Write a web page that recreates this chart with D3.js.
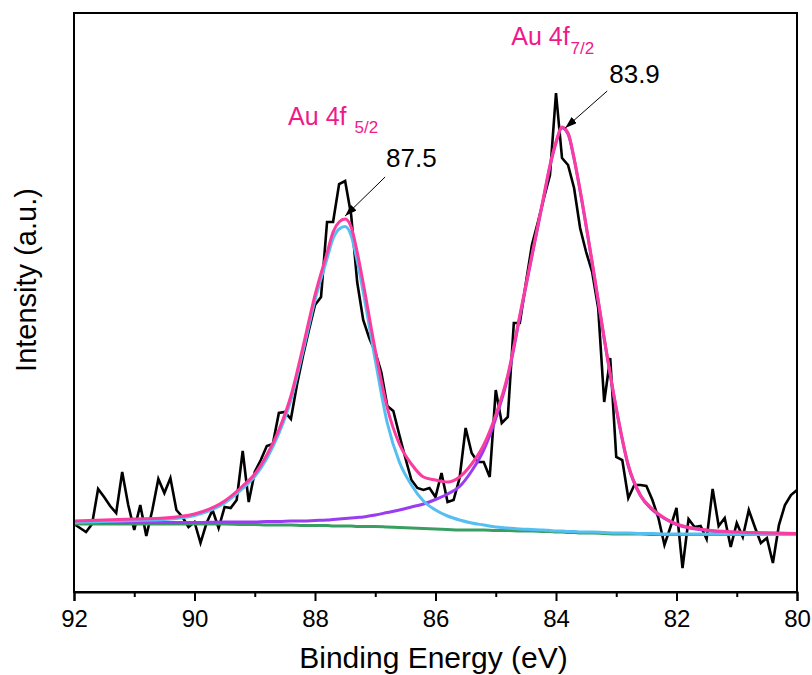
<!DOCTYPE html>
<html><head><meta charset="utf-8">
<script src="https://cdn.jsdelivr.net/npm/d3@7"></script>
<style>
body{margin:0;background:#fff}
svg{display:block}
text{font-family:"Liberation Sans",Arial,sans-serif}
</style>
</head><body>
<svg id="chart" width="812" height="675"></svg>
<script>
// ---- raw XPS spectrum (Binding energy 92.0 -> 80.0 eV, 0.1 eV step), intensity (a.u.)
const rawEnergy = d3.range(121).map(i => +(92 - 0.1 * i).toFixed(1));
const rawIntensity = [
  68, 64, 60, 68, 103, 95, 86, 79, 120, 87, 62, 87, 56, 82, 113, 99, 114, 82, 75, 65,
  70, 49, 69, 82, 64, 85, 84, 92, 141, 90, 120, 132, 146, 148,
  179, 180, 173, 207, 236, 262, 287, 295, 370, 370, 408, 411, 377, 310, 272, 254, 240, 220, 186, 181, 157, 134, 112,
  104, 102, 104, 95, 119, 90, 92, 114, 164, 139, 130, 130, 115, 202, 169, 175, 269, 269, 309, 347,
  370, 394, 417, 499, 434, 427, 404, 364, 340, 320, 284, 190, 234, 135,
  132, 94, 107, 107, 106, 92, 74, 47, 65, 84, 24, 73, 65, 66, 53, 103, 66, 74, 45, 69,
  55, 82, 65, 49, 54, 29, 67, 87, 97, 102
];

// ---- fitted curves, sampled energies
const fitEnergy = [92.0, 91.0, 90.5, 90.0, 89.5, 89.2, 89.0, 88.8, 88.6, 88.4, 88.2, 88.0, 87.8, 87.7, 87.6,
  87.5, 87.4, 87.3, 87.2, 87.0, 86.8, 86.6, 86.4, 86.2, 86.0, 85.8, 85.6, 85.4, 85.2, 85.0, 84.8, 84.6,
  84.4, 84.2, 84.1, 84.0, 83.9, 83.8, 83.7, 83.6, 83.4, 83.2, 83.0, 82.8, 82.6, 82.4, 82.2, 82.0, 81.5,
  81.0, 80.5, 80.0];
const envelopeFit = [71, 73, 74, 78, 91, 106, 118, 137, 162, 196, 245, 297, 339, 360, 370, 373, 365, 340,
  309, 242, 184, 148, 128, 115, 112, 110, 115, 128, 147, 177, 217, 277, 337, 397, 427, 450, 465, 459,
  434, 402, 330, 254, 184, 127, 97, 83, 74, 68, 62, 60, 59, 58.5];
const au52Fit = [69.5, 71.5, 72.5, 76.5, 89, 103.5, 115.5, 133.5, 158.5, 192, 240.5, 292, 333.5, 353.5, 363,
  365.5, 356.5, 331, 300, 232, 169, 130, 107, 91, 82, 76, 72, 69, 67, 65, 64, 63, 62.5, 62, 61.5, 61, 61,
  60.5, 60.5, 60, 60, 59.5, 59, 59, 58.5, 58.5, 58, 58, 58, 58, 57.5, 57.5];
const au72Fit = [69.5, 69.5, 69.5, 69.5, 70, 70, 70, 70.5, 70.5, 71, 71, 71.5, 72, 72.5, 73, 73.5, 74, 74.5,
  75, 77, 79.5, 82, 85, 88, 92.5, 98, 105.5, 121, 142, 173.5, 214.5, 275, 335.5, 395.5, 425.5, 449, 464,
  458, 433, 401, 329, 253, 183, 126, 96.5, 82, 73.5, 67.5, 61.5, 59.5, 59, 58.5];
const backgroundFit = [68, 68, 68, 68, 68, 67.5, 67.5, 67, 67, 67, 66.5, 66.5, 66.5, 66, 66, 66, 66, 65.5,
  65.5, 65.5, 65, 64.5, 64, 63.5, 63, 62.5, 62, 62, 62, 61.5, 61.5, 61, 61, 60.5, 60.5, 60, 60, 59.5,
  59.5, 59, 59, 58.5, 58, 58, 58, 57.5, 57.5, 57.5, 57.5, 57.5, 57.5, 57.5];

// ---- axis ticks
const majorTicks = [92, 90, 88, 86, 84, 82, 80];
const minorTicks = [91, 89, 87, 85, 83, 81];

// ---- peak annotations
const peakLabels = ["87.5", "83.9"];
const peakEnergy = [87.55, 83.88];
const peakValue = [373, 465];
const peakNames = ["Au 4f", "Au 4f"];
const peakSubs = ["5/2", "7/2"];

const svg = d3.select("#chart");
const L = 74, R = 797, T = 13, B = 592;
const x = d3.scaleLinear().domain([92, 80]).range([L, R]);
const y = d3.scaleLinear().domain([0, 579]).range([B, T]);

const defs = svg.append("defs");
defs.append("marker").attr("id", "arr").attr("viewBox", "0 0 12 8")
  .attr("refX", 12).attr("refY", 4).attr("markerWidth", 12).attr("markerHeight", 8)
  .attr("markerUnits", "userSpaceOnUse").attr("orient", "auto")
  .append("path").attr("d", "M0,0 L12,4 L0,8 Z").attr("fill", "#000");
defs.append("clipPath").attr("id", "clip").append("rect")
  .attr("x", L).attr("y", T).attr("width", R - L).attr("height", B - T);

const plot = svg.append("g").attr("clip-path", "url(#clip)");
const line = d3.line().x(d => x(d[0])).y(d => y(d[1]));
const smooth = d3.line().x(d => x(d[0])).y(d => y(d[1])).curve(d3.curveMonotoneX);

plot.append("path").datum(rawEnergy.map((e, i) => [e, rawIntensity[i]]))
  .attr("d", line).attr("fill", "none").attr("stroke", "#000").attr("stroke-width", 2.6)
  .attr("stroke-linejoin", "miter");

const fits = [
  {v: backgroundFit, c: "#3a9e62"},
  {v: au72Fit, c: "#9a3cf2"},
  {v: au52Fit, c: "#55bff2"},
  {v: envelopeFit, c: "#fb3c9f"}
];
fits.forEach(f => {
  plot.append("path").datum(fitEnergy.map((e, i) => [e, f.v[i]]))
    .attr("d", smooth).attr("fill", "none").attr("stroke", f.c).attr("stroke-width", 3);
});

// frame
svg.append("rect").attr("x", L).attr("y", T).attr("width", R - L).attr("height", B - T)
  .attr("fill", "none").attr("stroke", "#000").attr("stroke-width", 2);

// x axis
const ax = svg.append("g").attr("transform", `translate(0,${B})`)
  .call(d3.axisBottom(x).tickValues(majorTicks).tickSize(9).tickPadding(9).tickFormat(d3.format("d")));
ax.select(".domain").attr("stroke-width", 2);
ax.selectAll(".tick line").attr("stroke-width", 2);
ax.selectAll(".tick text").attr("font-size", 24).attr("font-family", '"Liberation Sans",Arial,sans-serif').attr("fill", "#000");
const axm = svg.append("g").attr("transform", `translate(0,${B})`)
  .call(d3.axisBottom(x).tickValues(minorTicks).tickSize(5).tickFormat(""));
axm.select(".domain").remove();
axm.selectAll(".tick line").attr("stroke-width", 2);

svg.append("text").attr("x", (L + R) / 2 - 2).attr("y", 668).attr("text-anchor", "middle")
  .attr("font-size", 30).text("Binding Energy (eV)");
svg.append("text").attr("transform", `translate(36,280) rotate(-90)`)
  .attr("text-anchor", "middle").attr("font-size", 29).text("Intensity (a.u.)");

// annotations
const nameOff = [[-54, -94], [-52, -82]];
const subDx = [8, 1];
const subDy = [8, 9];
const valOff = [[44, -52], [46, -44]];
const arrFrom = [[43, -42], [44, -36]];
const arrTo = [[3, -3], [2, 1]];
peakLabels.forEach((lab, i) => {
  const px = x(peakEnergy[i]), py = y(peakValue[i]);
  svg.append("line").attr("x1", px + arrFrom[i][0]).attr("y1", py + arrFrom[i][1])
    .attr("x2", px + arrTo[i][0]).attr("y2", py + arrTo[i][1])
    .attr("stroke", "#000").attr("stroke-width", 1).attr("marker-end", "url(#arr)");
  svg.append("text").attr("x", px + valOff[i][0]).attr("y", py + valOff[i][1])
    .attr("font-size", 26).attr("fill", "#000").text(lab);
  const t = svg.append("text").attr("x", px + nameOff[i][0]).attr("y", py + nameOff[i][1])
    .attr("font-size", 25).attr("fill", "#ee1a8a");
  t.append("tspan").text(peakNames[i]);
  t.append("tspan").attr("dx", subDx[i]).attr("dy", subDy[i])
    .attr("font-size", 17).text(peakSubs[i]);
});
</script>
</body></html>
